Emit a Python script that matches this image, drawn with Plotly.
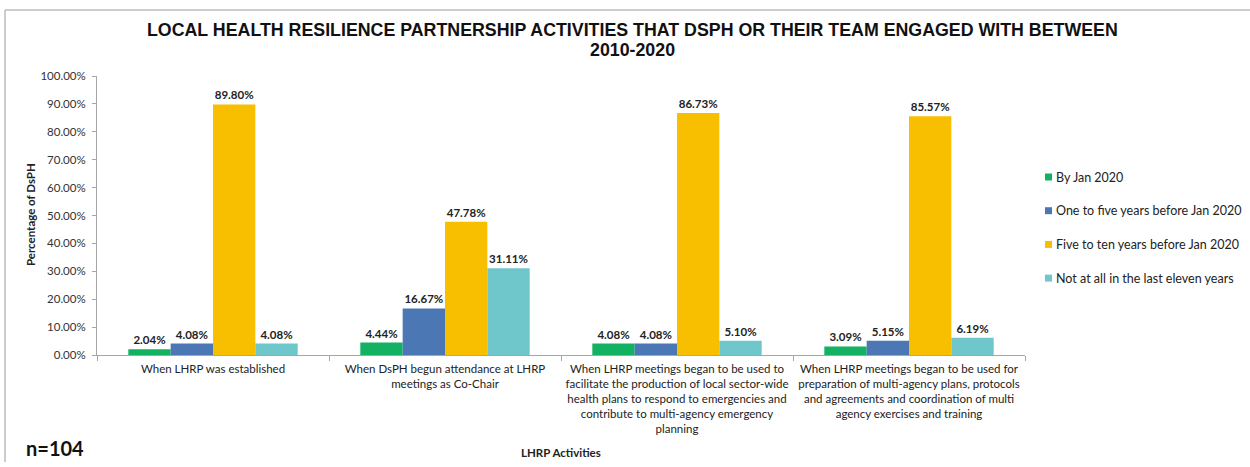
import plotly.graph_objects as go

categories = [
    "When LHRP was established",
    "When DsPH begun attendance at LHRP<br>meetings as Co-Chair",
    "When LHRP meetings began to be used to<br>facilitate the production of local sector-wide<br>"
    "health plans to respond to emergencies and<br>contribute to multi-agency emergency<br>planning",
    "When LHRP meetings began to be used for<br>preparation of multi-agency plans, protocols<br>"
    "and agreements and coordination of multi<br>agency exercises and training",
]

series_names = [
    "By Jan 2020",
    "One to five years before Jan 2020",
    "Five to ten years before Jan 2020",
    "Not at all in the last eleven years",
]

by_jan_2020 = [0.0204, 0.0444, 0.0408, 0.0309]
one_to_five = [0.0408, 0.1667, 0.0408, 0.0515]
five_to_ten = [0.8980, 0.4778, 0.8673, 0.8557]
not_at_all = [0.0408, 0.3111, 0.0510, 0.0619]

series_values = [by_jan_2020, one_to_five, five_to_ten, not_at_all]
colors = ["#12B262", "#4B78B5", "#F8BE00", "#6FC7CB"]

y_ticks = [i / 10 for i in range(11)]

title_lines = [
    "LOCAL HEALTH RESILIENCE PARTNERSHIP ACTIVITIES THAT DSPH OR THEIR TEAM ENGAGED WITH BETWEEN",
    "2010-2020",
]

FONT = "Lato, 'Open Sans', sans-serif"

# plot area in pixels (used to place layout furniture in paper coordinates)
L, R, T, B = 97, 1025, 76, 355
W, H = R - L, B - T


def px(x):
    return (x - L) / W


def py(y):
    return (B - y) / H


fig = go.Figure()
for name, vals, col in zip(series_names, series_values, colors):
    fig.add_trace(go.Bar(
        name=name,
        x=categories,
        y=vals,
        marker=dict(color=col, line=dict(width=0)),
        texttemplate="%{y:.2%}",
        textposition="outside",
        textfont=dict(family=FONT, size=11.5, color="#222222", weight="bold"),
        cliponaxis=False,
    ))

fig.update_layout(
    width=1250,
    height=467,
    margin=dict(l=L, r=1250 - R, t=T, b=467 - B),
    paper_bgcolor="white",
    plot_bgcolor="white",
    barmode="group",
    bargap=0.27,
    bargroupgap=0,
    font=dict(family=FONT, size=11, color="#222222"),
    showlegend=False,
    xaxis=dict(
        showline=True, linecolor="#A6A6A6", linewidth=1,
        ticks="outside", tickson="boundaries", ticklen=5, tickcolor="#A6A6A6",
        tickfont=dict(family=FONT, size=11.5, color="#222222"),
        ticklabelstandoff=3,
        tickangle=0,
        showgrid=False,
    ),
    yaxis=dict(
        range=[0, 1],
        tickvals=y_ticks,
        tickformat=".2%",
        showline=True, linecolor="#A6A6A6", linewidth=1,
        ticks="outside", ticklen=4, tickcolor="#A6A6A6",
        tickfont=dict(family=FONT, size=11.5, color="#333333"),
        ticklabelstandoff=4,
        showgrid=False, zeroline=False,
    ),
)

# Title, one annotation per line
for line, yc in zip(title_lines, [30, 50]):
    fig.add_annotation(
        text=line, xref="paper", yref="paper", x=px(632), y=py(yc),
        xanchor="center", yanchor="middle", showarrow=False,
        font=dict(family="Liberation Sans, Arial, sans-serif", size=17.8,
                  color="#111111", weight="bold"),
    )

# Axis titles
fig.add_annotation(
    text="Percentage of DsPH", textangle=-90,
    xref="paper", yref="paper", x=px(30), y=py(215),
    xanchor="center", yanchor="middle", showarrow=False,
    font=dict(family=FONT, size=11.5, color="#222222", weight="bold"),
)
fig.add_annotation(
    text="LHRP Activities",
    xref="paper", yref="paper", x=0.5, y=py(452),
    xanchor="center", yanchor="middle", showarrow=False,
    font=dict(family=FONT, size=11.5, color="#222222", weight="bold"),
)
fig.add_annotation(
    text="n=104",
    xref="paper", yref="paper", x=px(24), y=py(448),
    xanchor="left", yanchor="middle", showarrow=False,
    font=dict(family=FONT, size=20, color="#111111", weight="bold"),
)

# Legend: colour swatch plus label for each series
for i, (name, col) in enumerate(zip(series_names, colors)):
    yc = 177 + i * 33.7
    fig.add_shape(type="rect", xref="paper", yref="paper",
                  x0=px(1045), x1=px(1052), y0=py(yc - 3.5), y1=py(yc + 3.5),
                  fillcolor=col, line=dict(width=0))
    fig.add_annotation(
        text=name, xref="paper", yref="paper", x=px(1054), y=py(yc),
        xanchor="left", yanchor="middle", showarrow=False,
        font=dict(family=FONT, size=12.5, color="#222222"),
    )

# Frame lines (top and left)
fig.add_shape(type="line", xref="paper", yref="paper",
              x0=px(5), x1=px(1250), y0=py(10), y1=py(10),
              line=dict(color="#BDBDBD", width=1.5))
fig.add_shape(type="line", xref="paper", yref="paper",
              x0=px(5), x1=px(5), y0=py(10), y1=py(462),
              line=dict(color="#BDBDBD", width=1.5))

fig.write_html("out.html")
